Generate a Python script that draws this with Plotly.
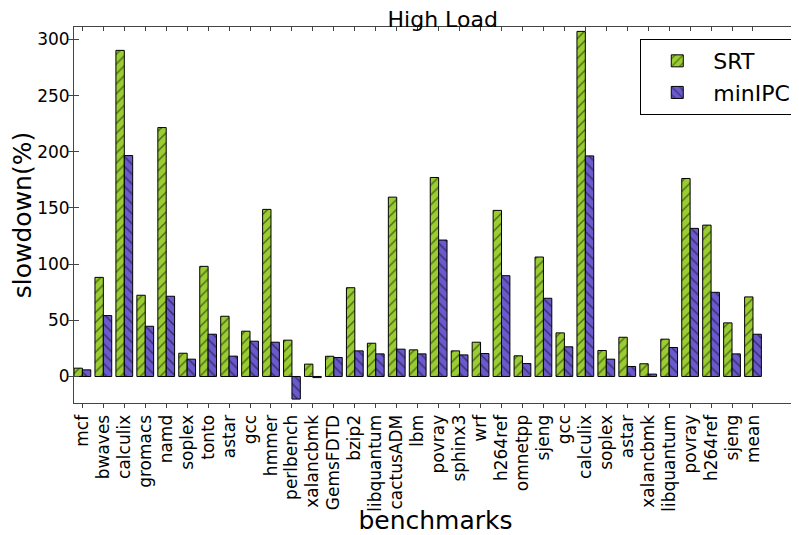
import plotly.graph_objects as go

benchmarks = ["mcf", "bwaves", "calculix", "gromacs", "namd", "soplex", "tonto", "astar",
              "gcc", "hmmer", "perlbench", "xalancbmk", "GemsFDTD", "bzip2", "libquantum",
              "cactusADM", "lbm", "povray", "sphinx3", "wrf", "h264ref", "omnetpp", "sjeng",
              "gcc", "calculix", "soplex", "astar", "xalancbmk", "libquantum", "povray",
              "h264ref", "sjeng", "mean"]

srt = [7.4, 88.2, 290.2, 72.3, 221.5, 20.7, 98.0, 53.6, 40.3, 148.7, 32.3, 11.0, 18.0,
       79.0, 29.6, 159.6, 23.7, 177.1, 22.8, 30.5, 147.8, 18.4, 106.3, 38.8, 307.1, 23.1,
       34.9, 11.3, 33.2, 176.2, 134.7, 47.7, 70.8]

minipc = [5.9, 54.2, 196.6, 44.7, 71.4, 15.4, 37.6, 18.1, 31.4, 30.5, -20.1, -1.0, 16.9,
          22.8, 20.1, 24.3, 20.1, 121.4, 19.2, 20.4, 89.7, 11.5, 69.6, 26.4, 196.3, 15.4,
          8.9, 2.1, 25.8, 131.8, 74.9, 20.1, 37.6]

y_ticks = [0, 50, 100, 150, 200, 250, 300]

idx = list(range(len(benchmarks)))
FONT = "DejaVu Sans"

fig = go.Figure()
fig.add_trace(go.Bar(
    x=idx, y=srt, name="SRT", width=0.4, offset=-0.4,
    marker=dict(color="#9ACD32", line=dict(color="black", width=1),
                pattern=dict(shape="/", fgcolor="black", size=7, solidity=0.2)),
))
fig.add_trace(go.Bar(
    x=idx, y=minipc, name="minIPC", width=0.4, offset=0.0,
    marker=dict(color="#6A5ACD", line=dict(color="black", width=1),
                pattern=dict(shape="\\", fgcolor="black", size=7, solidity=0.2)),
))
# invisible trace to draw inward ticks on the top edge
fig.add_trace(go.Scatter(x=[idx[0]], y=[None], xaxis="x2", showlegend=False, hoverinfo="skip"))

# the page body adds an 8px offset, so the figure is 8px smaller and margins shifted
fig.update_layout(
    width=791, height=527,
    margin=dict(l=66, r=2, t=19, b=132, autoexpand=False),
    paper_bgcolor="white", plot_bgcolor="white",
    font=dict(family=FONT, color="black", size=17),
    title=dict(text="High Load", font=dict(size=22, color="black"),
               x=0.51, xref="paper", xanchor="center", y=0.978, yanchor="middle",
               automargin=False),
    showlegend=True,
    legend=dict(x=0.999, xanchor="right", y=0.968, yanchor="top",
                bordercolor="black", borderwidth=1, bgcolor="white",
                font=dict(size=22), itemwidth=62, tracegroupgap=0),
    barmode="overlay",
    xaxis=dict(
        range=[-0.4, 34.1], tickmode="array", tickvals=idx, ticktext=benchmarks,
        tickangle=-90, ticks="outside", ticklen=4, tickcolor="#444",
        showline=True, linecolor="#444", linewidth=1, mirror=True,
        showgrid=False, zeroline=False, tickfont=dict(size=17), automargin=False,
        title=dict(text="benchmarks", font=dict(size=25), standoff=4),
    ),
    xaxis2=dict(
        overlaying="x", matches="x", side="top", tickmode="array", tickvals=idx,
        ticks="inside", ticklen=4, tickcolor="#444", showticklabels=False,
        showgrid=False, zeroline=False, showline=False, automargin=False,
    ),
    yaxis=dict(
        range=[-23.6, 311], tickmode="array", tickvals=y_ticks,
        ticks="inside", ticklen=5, tickcolor="#444",
        showline=True, linecolor="#444", linewidth=1, mirror="allticks",
        showgrid=False, zeroline=False, tickfont=dict(size=17), automargin=False,
        title=dict(text="slowdown(%)", font=dict(size=25), standoff=6),
    ),
)

fig.write_html("out.html")
